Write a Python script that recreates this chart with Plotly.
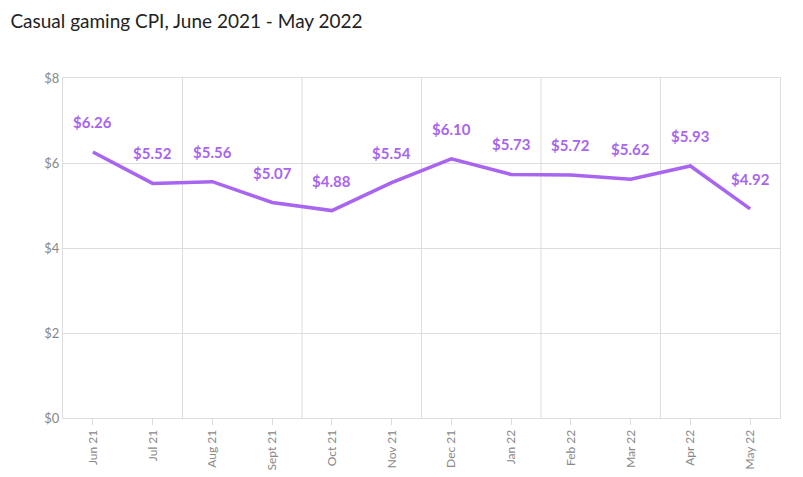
import plotly.graph_objects as go

months = ["Jun 21","Jul 21","Aug 21","Sept 21","Oct 21","Nov 21","Dec 21","Jan 22","Feb 22","Mar 22","Apr 22","May 22"]
cpi = [6.26,5.52,5.56,5.07,4.88,5.54,6.10,5.73,5.72,5.62,5.93,4.92]
yticks = [0,2,4,6,8]

purple = "#a865f0"
x = list(range(len(months)))
fig = go.Figure(go.Scatter(
    x=x, y=cpi, mode="lines",
    line=dict(color=purple, width=3.5), hoverinfo="skip"))
for g in [1.5,3.5,5.5,7.5,9.5]:
    fig.add_shape(type="line", x0=g, x1=g, y0=0, y1=8, xref="x", yref="y",
                  line=dict(color="#dddddd", width=1), layer="below")
anns = [dict(x=xi, y=v, text=f"${v:.2f}", showarrow=False, yshift=30, xref="x", yref="y",
             font=dict(color=purple, size=15, family="Lato", weight="bold"))
        for xi, v in zip(x, cpi)]
anns.append(dict(text="Source: Liftoff", x=1, y=0.5, xref="paper", yref="paper", xshift=23,
                 textangle=-90, showarrow=False, xanchor="center",
                 font=dict(size=12, color="#999", family="Lato")))
fig.update_layout(
    width=803, height=477, margin=dict(l=55, r=31, t=70, b=67, autoexpand=False),
    plot_bgcolor="white", paper_bgcolor="white", showlegend=False,
    title=dict(text="Casual gaming CPI, June 2021 - May 2022", x=0.003, xanchor="left",
               y=0.985, yanchor="top", font=dict(size=19, color="#222", family="Lato")),
    xaxis=dict(range=[-0.5,11.5], tickvals=x, ticktext=months, tickangle=-90, automargin=False,
               showgrid=False, zeroline=False, showline=True, linecolor="#dddddd", mirror=True,
               ticks="outside", tickcolor="#dddddd", ticklen=6,
               tickfont=dict(size=12, color="#888", family="Lato")),
    yaxis=dict(range=[0,8], tickvals=yticks, ticktext=[f"${v}" for v in yticks], automargin=False,
               showgrid=True, gridcolor="#dddddd", zeroline=False, showline=True,
               linecolor="#dddddd", mirror=True,
               tickfont=dict(size=13, color="#888", family="Lato")),
    annotations=anns)
fig.write_html("out.html")
